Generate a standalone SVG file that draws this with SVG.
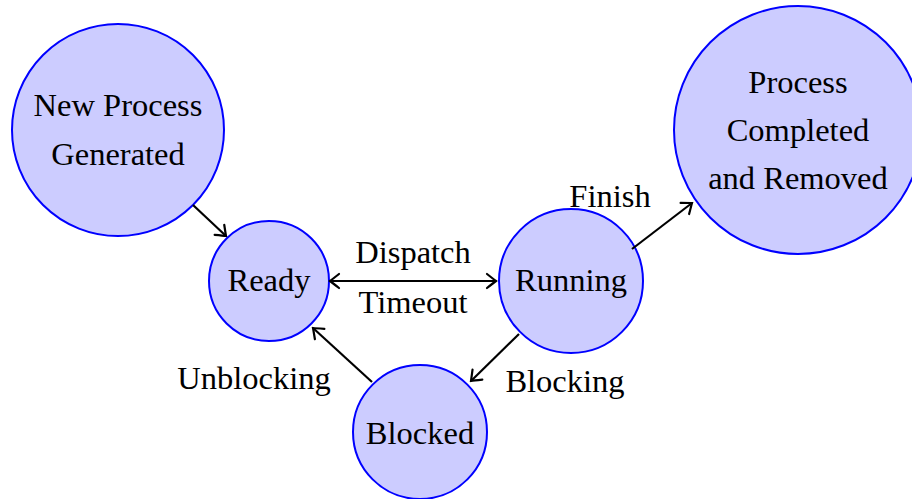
<svg xmlns="http://www.w3.org/2000/svg" width="912" height="499" viewBox="0 0 912 499">
<style>
.node{fill:#ccccff;stroke:#0000ff;stroke-width:2}
text{font-family:"Liberation Serif","Times New Roman",serif;font-size:32.5px;fill:#000;text-anchor:middle}
.edge{stroke:#000;stroke-width:2.2;fill:none;marker-end:url(#arr)}
</style>
<defs>
<marker id="arr" viewBox="-11 -9 13 18" markerWidth="13" markerHeight="18" refX="0" refY="0" orient="auto-start-reverse" markerUnits="userSpaceOnUse">
<path d="M-9,-7 Q-2,-1.5 0,0 Q-2,1.5 -9,7" fill="none" stroke="#000" stroke-width="2.2" stroke-linecap="round"/>
</marker>
</defs>
<rect width="912" height="499" fill="#fff"/>
<g id="new">
<circle class="node" cx="118" cy="130" r="106"/>
<text x="118" y="116">New Process</text>
<text x="118" y="165">Generated</text>
</g>
<g id="ready">
<circle class="node" cx="269" cy="281" r="60"/>
<text x="269" y="291">Ready</text>
</g>
<g id="running">
<circle class="node" cx="571" cy="281" r="72"/>
<text x="571" y="291">Running</text>
</g>
<g id="blocked">
<circle class="node" cx="420" cy="432" r="67"/>
<text x="420" y="444">Blocked</text>
</g>
<g id="completed">
<circle class="node" cx="798" cy="130" r="124"/>
<text x="798" y="93">Process</text>
<text x="798" y="141">Completed</text>
<text x="798" y="189">and Removed</text>
</g>
<g id="connectors">
<path class="edge" d="M193,205 L226,236"/>
<path class="edge" d="M330,281 L496,281" style="marker-start:url(#arr)"/>
<path class="edge" d="M519,334 L471,381"/>
<path class="edge" d="M372,382 L313,328"/>
<path class="edge" d="M632,249 L692,203"/>
<text x="413" y="263">Dispatch</text>
<text x="413" y="313">Timeout</text>
<text x="610" y="207">Finish</text>
<text x="254" y="389">Unblocking</text>
<text x="565" y="392">Blocking</text>
</g>
</svg>
